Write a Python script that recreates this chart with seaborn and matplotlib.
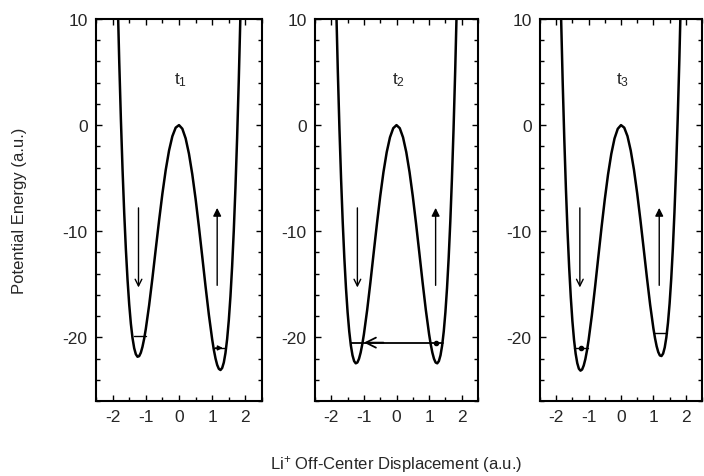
import numpy as np
import pandas as pd
import matplotlib
matplotlib.use("Agg")
import matplotlib.pyplot as plt
from matplotlib.ticker import MultipleLocator
import seaborn as sns

# ---------------- data ----------------
panel_labels = ["t$_1$", "t$_2$", "t$_3$"]

x_disp = [-1.9, -1.85, -1.8, -1.75, -1.7, -1.65, -1.6, -1.55, -1.5, -1.45, -1.4,
          -1.35, -1.3, -1.25, -1.2, -1.15, -1.1, -1.05, -1.0,
          -0.9, -0.8, -0.7, -0.6, -0.5, -0.4, -0.3, -0.2, -0.1, 0.0,
          0.1, 0.2, 0.3, 0.4, 0.5, 0.6, 0.7, 0.8, 0.9,
          1.0, 1.05, 1.1, 1.15, 1.2, 1.25, 1.3, 1.35, 1.4, 1.45, 1.5,
          1.55, 1.6, 1.65, 1.7, 1.75, 1.8, 1.85, 1.9]

energy_t1 = [19.29, 12.22, 5.97, 0.51, -4.23, -8.30, -11.73, -14.58, -16.89, -18.71, -20.07,
             -21.02, -21.59, -21.83, -21.77, -21.45, -20.89, -20.14, -19.21,
             -16.98, -14.41, -11.68, -8.99, -6.46, -4.23, -2.40, -1.05, -0.24, 0.0,
             -0.34, -1.25, -2.70, -4.63, -6.96, -9.59, -12.38, -15.21, -17.88,
             -20.21, -21.19, -21.99, -22.60, -22.97, -23.08, -22.89, -22.37, -21.47, -20.16, -18.39,
             -16.13, -13.33, -9.95, -5.93, -1.25, 4.17, 10.37, 17.39]

energy_t2 = [18.34, 11.29, 5.07, -0.37, -5.08, -9.12, -12.53, -15.35, -17.64, -19.43, -20.77,
             -21.69, -22.24, -22.45, -22.37, -22.02, -21.44, -20.66, -19.71,
             -17.43, -14.81, -12.03, -9.29, -6.71, -4.43, -2.55, -1.15, -0.29, 0.0,
             -0.29, -1.15, -2.55, -4.43, -6.71, -9.29, -12.03, -14.81, -17.43,
             -19.71, -20.66, -21.44, -22.02, -22.37, -22.45, -22.24, -21.69, -20.77, -19.43, -17.64,
             -15.35, -12.53, -9.12, -5.08, -0.37, 5.07, 11.29, 18.34]

energy_t3 = [17.30, 10.27, 4.08, -1.33, -6.02, -10.03, -13.41, -16.20, -18.47, -20.23, -21.54,
             -22.43, -22.96, -23.14, -23.03, -22.65, -22.05, -21.24, -20.26,
             -17.93, -15.25, -12.42, -9.62, -6.99, -4.65, -2.72, -1.26, -0.35, 0.0,
             -0.24, -1.04, -2.39, -4.21, -6.44, -8.96, -11.65, -14.37, -16.94,
             -19.16, -20.08, -20.84, -21.39, -21.71, -21.76, -21.53, -20.95, -20.00, -18.63, -16.82,
             -14.50, -11.65, -8.21, -4.15, 0.59, 6.06, 12.31, 19.39]

# vertical arrows: (x, y_start, y_end) per panel
down_arrows = [(-1.22, -7.8, -15.3), (-1.20, -7.8, -15.3), (-1.27, -7.8, -15.3)]
up_arrows = [(1.15, -15.1, -7.8), (1.20, -15.1, -7.8), (1.18, -15.1, -7.8)]

# level lines in the wells: (x_left, x_right, y)
levels_t1 = [(-1.35, -0.99, -19.85), (1.03, 1.38, -21.0)]
levels_t2 = [(-1.40, 1.42, -20.5)]
levels_t3 = [(-1.45, -1.02, -21.0), (1.02, 1.42, -19.6)]

x_ticks = [-2, -1, 0, 1, 2]
y_ticks = [10, 0, -10, -20]

# ---------------- build table ----------------
df = pd.DataFrame({
    "x": x_disp * 3,
    "V": energy_t1 + energy_t2 + energy_t3,
    "panel": ["t1"] * len(x_disp) + ["t2"] * len(x_disp) + ["t3"] * len(x_disp),
})

sns.set_style("ticks")
plt.rcParams["font.family"] = ["Liberation Sans", "DejaVu Sans"]
plt.rcParams["mathtext.fontset"] = "custom"
plt.rcParams["mathtext.rm"] = "Liberation Sans"
plt.rcParams["mathtext.it"] = "Liberation Sans"

fig = plt.figure(figsize=(7.04, 4.77), dpi=100)
bottom = 1 - 402 / 477
height = (402 - 20) / 477
lefts = [96 / 704, 315 / 704, 540 / 704]
widths = [166 / 704, 163 / 704, 162 / 704]

axes = []
for i, key in enumerate(["t1", "t2", "t3"]):
    ax = fig.add_axes([lefts[i], bottom, widths[i], height])
    axes.append(ax)
    sns.lineplot(data=df[df["panel"] == key], x="x", y="V", sort=False,
                 estimator=None, color="black", linewidth=1.8, ax=ax)
    ax.set_xlim(-2.5, 2.5)
    ax.set_ylim(-26, 10)
    ax.set_xticks(x_ticks)
    ax.set_yticks(y_ticks)
    ax.set_xticklabels([str(t) for t in x_ticks])
    ax.set_yticklabels([str(t) for t in y_ticks])
    ax.xaxis.set_minor_locator(MultipleLocator(0.5))
    ax.yaxis.set_minor_locator(MultipleLocator(2))
    ax.tick_params(which="both", direction="in", top=True, right=True,
                   color="black", width=1.0)
    ax.tick_params(which="major", length=4, labelsize=12.5, pad=6)
    ax.tick_params(which="minor", length=3)
    ax.set_xlabel("")
    ax.set_ylabel("")
    for s in ax.spines.values():
        s.set_linewidth(1.5)
        s.set_color("black")
        s.set_visible(True)

    ax.text(0.05, 4.3, panel_labels[i], ha="center", va="center", fontsize=12.5)

    # vertical arrows
    xa, y0, y1 = down_arrows[i]
    ax.annotate("", xy=(xa, y1), xytext=(xa, y0),
                arrowprops=dict(arrowstyle="->", color="black", lw=1.0,
                                mutation_scale=12, shrinkA=0, shrinkB=0))
    xa, y0, y1 = up_arrows[i]
    ax.annotate("", xy=(xa, y1), xytext=(xa, y0),
                arrowprops=dict(arrowstyle="-|>", color="black", lw=1.0,
                                mutation_scale=12, shrinkA=0, shrinkB=0))

# panel 1 levels
ax = axes[0]
for xl, xr, yv in levels_t1:
    ax.plot([xl, xr], [yv, yv], color="black", lw=1.0)
ax.annotate("", xy=(1.32, -21.0), xytext=(1.1, -21.0),
            arrowprops=dict(arrowstyle="-|>", color="black", lw=1.0,
                            mutation_scale=7, shrinkA=0, shrinkB=0))

# panel 2 tunnelling arrow
ax = axes[1]
for xl, xr, yv in levels_t2:
    ax.plot([xl, xr], [yv, yv], color="black", lw=1.3)
ax.annotate("", xy=(-1.0, -20.5), xytext=(-0.4, -20.5),
            arrowprops=dict(arrowstyle="->", color="black", lw=1.3,
                            mutation_scale=18, shrinkA=0, shrinkB=0))
ax.plot([1.22], [-20.5], marker="o", color="black", markersize=3)

# panel 3 levels
ax = axes[2]
for xl, xr, yv in levels_t3:
    ax.plot([xl, xr], [yv, yv], color="black", lw=1.0)
ax.plot([-1.22], [-21.0], marker="o", color="black", markersize=3)

fig.text(20 / 704, 1 - 211 / 477, "Potential Energy (a.u.)", rotation=90,
         ha="center", va="center", fontsize=12)
fig.text(396 / 704, 1 - 465 / 477, "Li$^{+}$ Off-Center Displacement (a.u.)",
         ha="center", va="center", fontsize=12)

fig.savefig("out.png", dpi=100)
